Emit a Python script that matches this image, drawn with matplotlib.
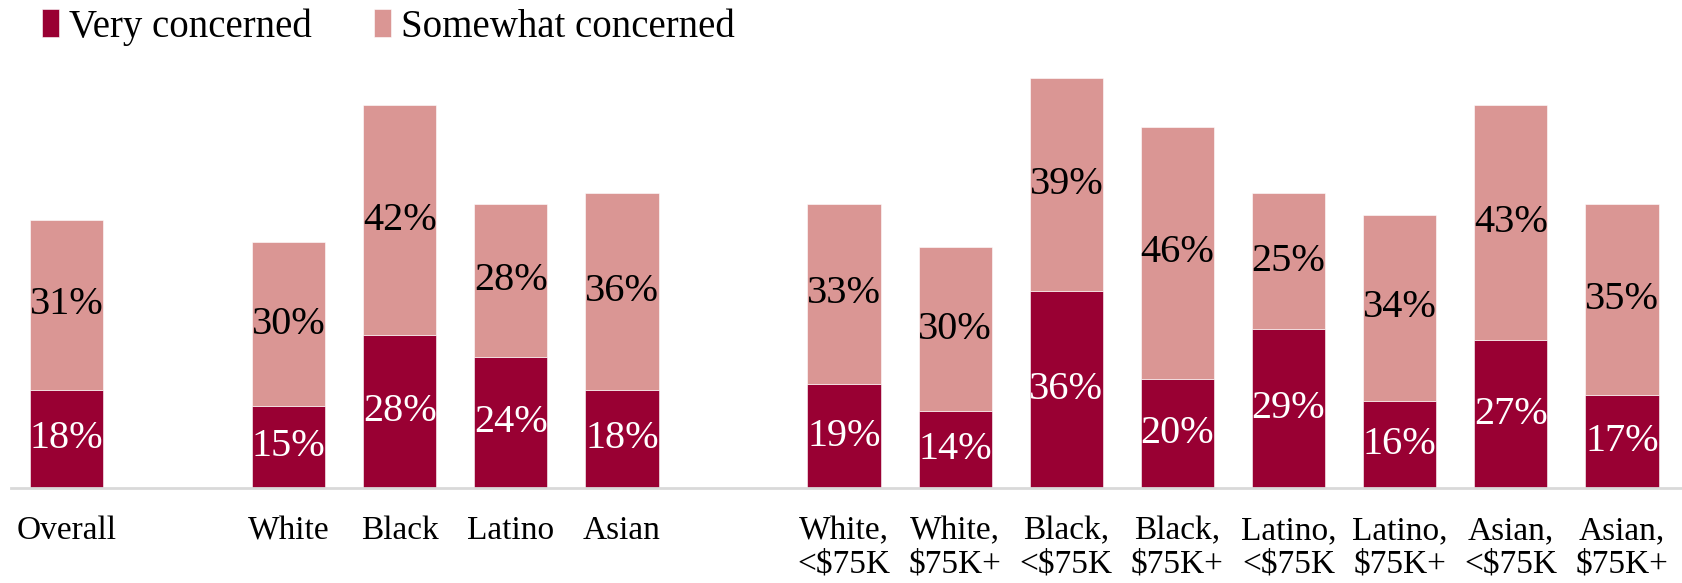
import matplotlib.pyplot as plt

categories = ["Overall", "", "White", "Black", "Latino", "Asian", "",
              "White,\n<$75K", "White,\n$75K+", "Black,\n<$75K", "Black,\n$75K+",
              "Latino,\n<$75K", "Latino,\n$75K+", "Asian,\n<$75K", "Asian,\n$75K+"]
very = [18, None, 15, 28, 24, 18, None, 19, 14, 36, 20, 29, 16, 27, 17]
somewhat = [31, None, 30, 42, 28, 36, None, 33, 30, 39, 46, 25, 34, 43, 35]

DARK = "#990033"
LIGHT = "#DA9694"
FONT = "Liberation Serif"

fig = plt.figure(figsize=(16.83, 5.83), dpi=100)
ax = fig.add_axes([0.0064, 0.163, 0.9936, 0.75])

x = [i for i, v in enumerate(very) if v is not None]
v1 = [v for v in very if v is not None]
v2 = [v for v in somewhat if v is not None]

b1 = ax.bar(x, v1, width=0.66, color=DARK, edgecolor="white", linewidth=0.4, label="Very concerned")
b2 = ax.bar(x, v2, width=0.66, bottom=v1, color=LIGHT, edgecolor="white", linewidth=0.4, label="Somewhat concerned")

for xi, a, b in zip(x, v1, v2):
    ax.text(xi, a / 2, f"{a}%", ha="center", va="center", color="white", fontsize=29, family=FONT)
    ax.text(xi, a + b / 2, f"{b}%", ha="center", va="center", color="black", fontsize=29, family=FONT)

ax.set_xlim(-0.5, 14.55)
ax.set_ylim(0, 80)
ax.set_xticks(range(len(categories)))
ax.set_xticklabels(categories, fontsize=24, family=FONT, linespacing=1.1)
ax.tick_params(axis="x", length=0, pad=20)
ax.set_yticks([])
for s in ["top", "right", "left"]:
    ax.spines[s].set_visible(False)
ax.spines["bottom"].set_color("#d9d9d9")
ax.spines["bottom"].set_linewidth(2)

fig.legend(handles=[b1, b2], loc="upper left", bbox_to_anchor=(0.004, 1.046), ncol=2, frameon=False,
           prop={"family": FONT, "size": 28}, handlelength=0.45, handleheight=0.75,
           handletextpad=0.25, columnspacing=1.6)

fig.savefig("out.png", dpi=100)
